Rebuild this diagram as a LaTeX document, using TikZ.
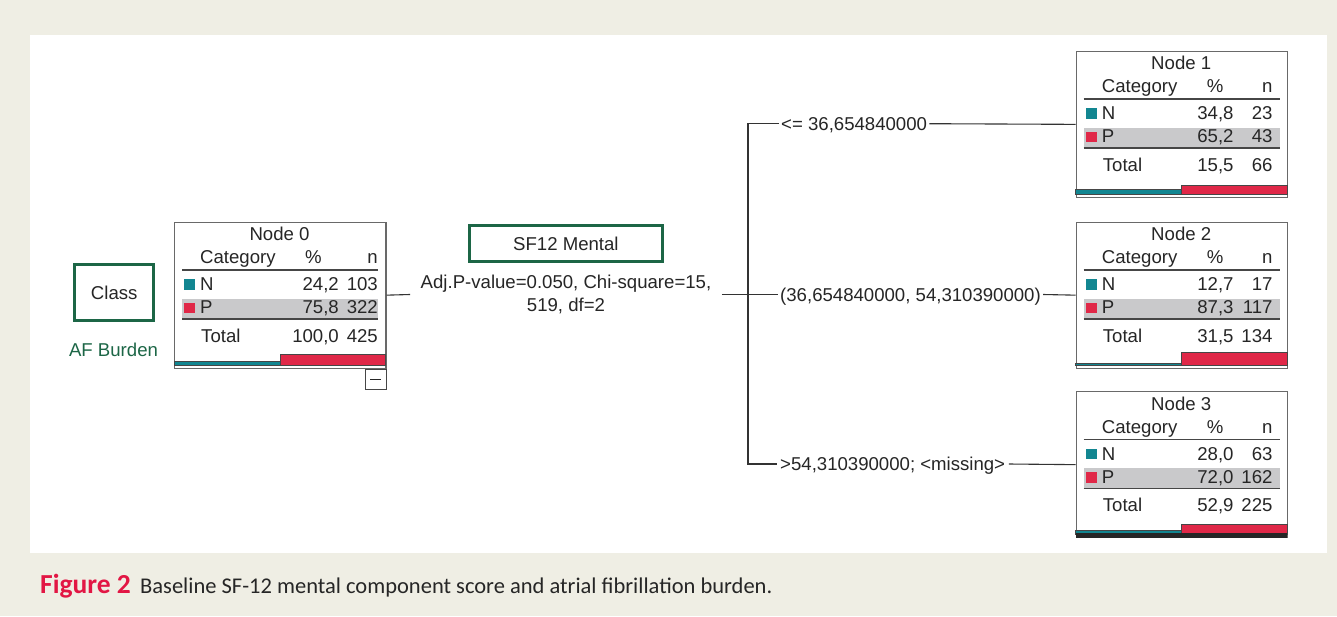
\documentclass[tikz,border=0pt]{standalone}
\usepackage{fontspec}
\setmainfont{Liberation Sans}
\newfontfamily\capfont{Carlito}
\usepackage{tikz}
\definecolor{bgbeige}{RGB}{239,238,228}
\definecolor{treegreen}{RGB}{28,102,70}
\definecolor{nteal}{RGB}{18,134,145}
\definecolor{pred}{RGB}{224,40,72}
\definecolor{bandgray}{RGB}{201,201,203}
\definecolor{boxgray}{RGB}{105,105,105}
\definecolor{rulegray}{RGB}{70,70,70}
\definecolor{figred}{RGB}{226,22,68}
\tikzstyle{table box}=[draw=boxgray,line width=1.3pt,anchor=north west,minimum width=211.3pt,minimum height=146pt,inner sep=0pt]
\tikzstyle{green box}=[draw=treegreen,line width=3pt,inner sep=0pt]
\tikzstyle{cell}=[inner sep=0pt]
\tikzstyle{rule}=[draw=rulegray,line width=1.8pt]
\tikzstyle{split label}=[inner xsep=2pt,inner ysep=0pt,text height=13.3pt,text depth=0pt]
\tikzstyle{edge} = [draw=black!80,line width=1.1pt,-]

\newcommand{\vals}[2]{\makebox[50pt][r]{#1}\makebox[39pt][r]{#2}}
% name, left, top, title, N, P, Total, n column, N share
\newcommand{\treenode}[9]{%
  \fill[bandgray] (#2+8,#3+77) rectangle (#2+204,#3+97);
  \node[table box] (#1) at (#2,#3) {};
  \node[cell,anchor=base] (#1t) at (#2+105.5,#3+19) {#4};
  \node[cell,anchor=base west] (#1c) at (#2+26,#3+42) {Category};
  \node[cell,anchor=base] (#1p) at (#2+139.5,#3+42) {\%};
  \node[cell,anchor=base east] (#1n) at (#2+#8,#3+42) {n};
  \draw[rule] (#2+8,#3+48.5) -- (#2+204,#3+48.5);
  \fill[nteal] (#2+10,#3+57.5) rectangle (#2+21,#3+68);
  \node[cell,anchor=base west] (#1cn) at (#2+26,#3+69) {N};
  \node[cell,anchor=base east] (#1vn) at (#2+#8,#3+69) {#5};
  \fill[pred] (#2+10,#3+81) rectangle (#2+21,#3+91.5);
  \node[cell,anchor=base west] (#1cp) at (#2+26,#3+92) {P};
  \node[cell,anchor=base east] (#1vp) at (#2+#8,#3+92) {#6};
  \draw[rule] (#2+8,#3+97.5) -- (#2+204,#3+97.5);
  \node[cell,anchor=base west] (#1ct) at (#2+27,#3+120.5) {Total};
  \node[cell,anchor=base east] (#1vt) at (#2+#8,#3+120.5) {#7};
  \fill[nteal,draw=rulegray,line width=0.5pt] (#2,#3+143.5) rectangle ({#2+106},{#3+143.5-14*#9});
  \fill[pred,draw=rulegray,line width=0.8pt] (#2+106,#3+143.5) rectangle ({#2+211.3},{#3+143.5-14*(1-#9)});
  \draw[rulegray,line width=1.3pt] (#2,#3+143.7) -- (#2+211.3,#3+143.7);
}

\begin{document}
\begin{tikzpicture}[x=1pt,y=-1pt,font=\fontsize{18.6}{22.3}\selectfont,text=black!85]
        \useasboundingbox (0,0) rectangle (1337,616);
        \fill[bgbeige] (0,0) rectangle (1337,616);
        \fill[white] (30,35) rectangle (1327,553);

        \node[green box,minimum width=78.7pt,minimum height=55.4pt] (class) at (114.2,292.5) {Class};
        \node[cell,anchor=base,text=treegreen] (target) at (113.5,356.7) {AF Burden};

        \treenode{n0}{174}{221.5}{Node 0}{\vals{24,2}{103}}{\vals{75,8}{322}}{\vals{100,0}{425}}{204}{0.242}
        \node[draw=rulegray,line width=1pt,minimum width=21pt,minimum height=20pt,inner sep=0pt,anchor=north east] (collapse) at (n0.south east) {\rule{10.5pt}{1.3pt}};

        \node[green box,minimum width=193.3pt,minimum height=36pt] (var) at (565.9,243.8) {SF12 Mental};
        \node[align=center,inner xsep=10.5pt,inner ysep=0pt] (adj) at (566,294.5) {Adj.P-value=0.050, Chi-square=15,\\519, df=2};

        \treenode{n1}{1075.7}{50.7}{Node 1}{\vals{34,8}{23}}{\vals{65,2}{43}}{\vals{15,5}{66}}{197}{0.348}
        \treenode{n2}{1075.7}{221.5}{Node 2}{\vals{12,7}{17}}{\vals{87,3}{117}}{\vals{31,5}{134}}{197}{0.127}
        \treenode{n3}{1075.7}{391}{Node 3}{\vals{28,0}{63}}{\vals{72,0}{162}}{\vals{52,9}{225}}{197}{0.280}
        \fill[black!85] (1075.7,533.3) rectangle (1287,537.7);

        \coordinate (trunk) at (748,294.5);
        \node[split label,anchor=west] (le) at (779,123.7) {<= 36,654840000};
        \node[split label,anchor=west] (mid) at (778,294.5) {(36,654840000, 54,310390000)};
        \node[split label,inner xsep=3.5pt,anchor=west] (gt) at (776.5,464) {>54,310390000; <missing>};

        \draw[edge] (n0.east) -- (adj.west);
        \draw[edge] (adj.east) -- (mid.west);
        \draw[edge] (le.west) -| (trunk) |- (gt.west);
        \draw[edge] (le.east) -- (n1.west);
        \draw[edge] (mid.east) -- (n2.west);
        \draw[edge] (gt.east) -- (n3.west);

        \node[cell,anchor=base west,text=figred] (figlbl) at (40,593.5) {\capfont\bfseries\fontsize{27.5}{32}\selectfont Figure 2};
        \node[cell,anchor=base west] (caption) at (140,593) {\capfont\fontsize{22.5}{26}\selectfont Baseline SF-12 mental component score and atrial fibrillation burden.};
      \end{tikzpicture}
\end{document}
